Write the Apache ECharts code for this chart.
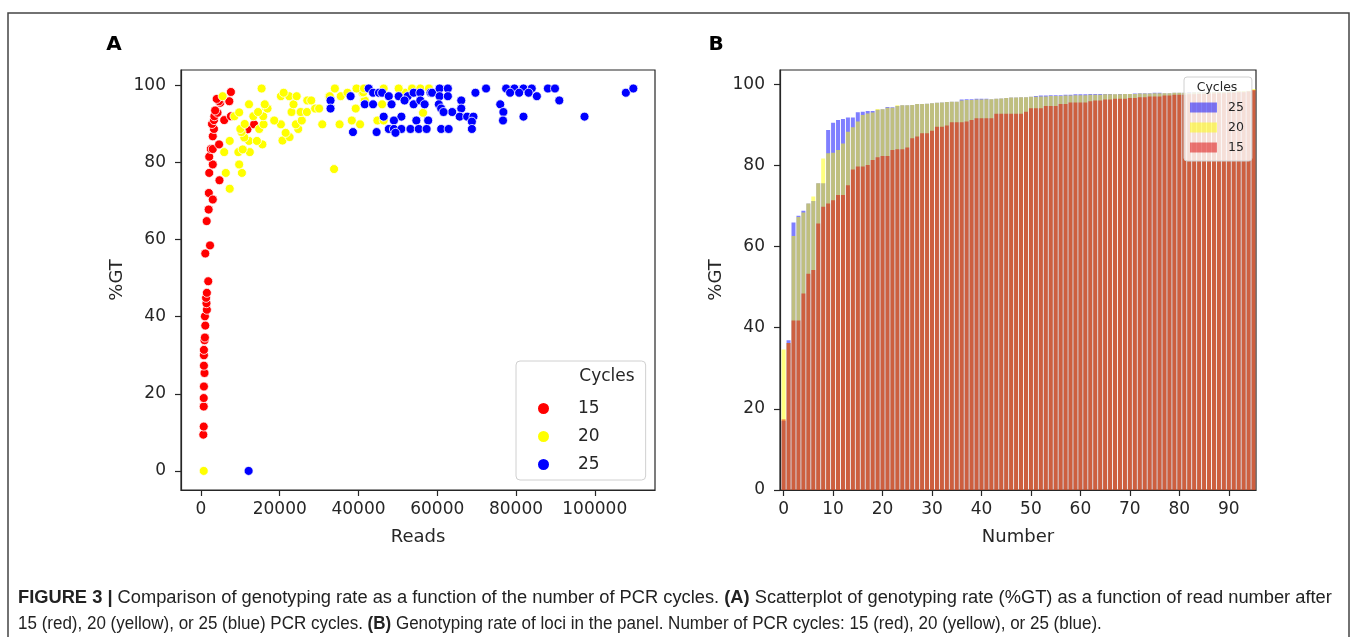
<!DOCTYPE html>
<html>
<head>
<meta charset="utf-8">
<script src="https://cdn.jsdelivr.net/npm/echarts@6/dist/echarts.min.js"></script>
<style>
html,body{margin:0;padding:0;background:#fff;}
#chart{width:1357px;height:637px;}
</style>
</head>
<body>
<div id="chart"></div>
<script>
// ---------- Panel A: scatter (Reads, %GT) ----------
const cycles15Points = [
  [600,9.4],[700,11.5],[700,16.7],[700,18.9],[750,21.9],[900,25.4],[750,27.3],[750,30.0],[750,31.4],
  [900,33.9],[1000,34.6],[1100,37.7],[1000,40.1],[1500,41.8],[1400,43.5],[1300,44.9],[1500,46.2],
  [1850,49.2],[1100,56.4],[2300,58.5],[1450,64.8],[1950,67.8],[2000,72.1],[3000,70.4],[4700,75.4],
  [2100,77.3],[3000,79.5],[2100,81.5],[2500,83.5],[3000,83.5],[4600,84.7],[3000,86.8],[3300,88.7],
  [11800,88.6],[13500,89.9],[2800,90.0],[3300,91.0],[5900,91.0],[3400,92.0],[7600,92.0],[4200,92.9],
  [3600,93.5],[4900,95.5],[4600,95.9],[7200,95.9],[4000,96.5],[7600,98.3]
];
const cycles20Points = [
  [700,0],[33800,78.3],[7300,73.2],[6300,77.3],[10400,77.3],[9700,79.5],[5900,82.7],[9500,82.7],
  [12400,82.7],[10600,83.4],[15600,84.7],[7300,85.6],[12200,85.6],[14200,85.6],[20700,85.7],[22500,86.6],
  [11000,86.5],[21500,87.7],[10300,87.9],[10000,88.7],[14800,88.7],[24700,88.7],[11100,90.0],[15900,89.9],
  [20300,89.9],[24100,89.9],[30800,89.9],[35200,89.9],[40400,89.9],[18600,90.9],[25600,90.9],[38300,90.9],
  [44800,90.9],[46400,90.9],[8500,92.0],[13300,92.0],[15800,92.0],[56400,92.9],[9700,93.0],[14500,93.1],
  [23000,93.1],[25300,93.1],[26900,93.1],[16500,94.2],[16900,94.0],[29000,94.0],[30000,94.0],[39300,94.0],
  [12200,95.1],[16200,95.1],[23500,95.1],[46000,95.1],[27000,96.1],[28000,96.1],[41400,96.1],[41600,96.1],
  [5500,97.2],[20300,97.2],[22400,97.2],[24300,97.2],[32500,97.2],[32700,97.2],[35500,97.2],[21000,98.1],
  [37200,98.1],[41000,98.1],[41200,98.2],[51900,98.1],[15400,99.2],[34000,99.2],[39500,99.2],[41400,99.2],
  [46400,99.2],[50200,99.2],[53600,99.2],[55700,99.2],[57900,99.2]
];
const cycles25Points = [
  [12100,0],[32900,96.1],[32900,94.0],[38000,97.2],[42600,99.2],[43700,98.1],[45200,98.1],[46000,98.1],
  [47700,97.2],[50200,97.2],[52500,97.2],[54000,98.1],[55700,98.1],[58300,98.1],[58700,98.1],[60600,99.2],
  [62700,99.2],[60600,97.2],[62700,97.2],[69700,98.1],[72400,99.2],[77500,99.2],[79600,99.2],[81900,99.2],
  [84000,99.2],[88100,99.2],[89900,99.2],[78500,98.1],[80800,98.1],[83200,98.1],[85300,97.2],[91000,96.1],
  [107900,98.1],[109800,99.2],[97400,91.9],[76000,95.1],[76800,93.1],[76700,90.9],[81900,91.9],[66100,96.1],
  [66100,94.0],[63800,93.1],[65700,91.9],[67600,91.9],[69200,91.9],[68800,90.6],[68800,88.7],[41600,95.1],
  [43700,95.1],[48400,95.1],[51700,96.1],[54000,95.1],[55700,96.1],[56800,95.1],[60400,95.1],[61000,94.0],
  [61600,93.1],[46400,91.9],[50900,91.9],[54700,90.9],[57700,90.9],[49000,90.9],[47700,88.7],[49000,88.7],
  [50900,88.7],[53200,88.7],[55300,88.7],[57300,88.7],[61000,88.7],[62900,88.7],[38600,87.9],[44600,87.9],
  [49400,87.7]
];
const readsTicks = [0,20000,40000,60000,80000,100000];
const gtTicks = [0,20,40,60,80,100];

// ---------- Panel B: bars (Number, %GT) ----------
const numberTicks = [0,10,20,30,40,50,60,70,80,90];
const gt15Bars = [
  17.4,36.2,41.8,41.8,48.4,53.3,54.2,65.7,69.8,70.6,71.4,72.7,72.7,75.1,79.0,79.7,79.7,80.1,81.3,82.0,
  82.3,82.3,83.8,84.0,84.0,84.4,86.7,87.1,87.9,87.9,88.5,89.5,89.5,89.8,90.6,90.6,90.6,90.8,91.2,91.6,
  91.6,91.6,91.6,92.7,92.7,92.7,92.7,92.7,92.7,93.2,94.1,94.1,94.1,94.6,94.6,94.6,95.1,95.1,95.5,95.5,
  95.5,95.5,95.8,96.0,96.0,96.2,96.2,96.4,96.4,96.4,96.6,96.6,96.8,96.8,97.0,97.0,97.0,97.2,97.2,97.4,
  97.4,97.4,97.5,97.5,97.6,97.6,97.7,97.7,97.8,97.8,97.9,97.9,98.0,98.0,98.2,98.6
];
const gt20Bars = [
  34.6,36.2,62.6,67.3,68.4,70.6,72.3,75.6,81.7,83.0,83.1,83.8,85.4,88.3,89.4,90.8,92.4,92.8,93.0,93.9,
  93.8,94.2,94.2,94.8,94.8,94.8,94.9,95.1,95.1,95.2,95.3,95.4,95.5,95.6,95.7,95.7,96.0,96.1,96.1,96.2,
  96.2,96.3,96.3,96.4,96.5,96.6,96.7,96.7,96.8,96.8,96.9,96.9,97.0,97.0,97.1,97.1,97.1,97.2,97.2,97.3,
  97.3,97.3,97.4,97.4,97.4,97.5,97.5,97.5,97.5,97.6,97.6,97.6,97.7,97.7,97.7,97.8,97.8,97.8,97.8,97.9,
  97.9,97.9,97.9,98.0,98.0,98.0,98.0,98.1,98.1,98.1,98.2,98.2,98.3,98.3,98.4,98.8
];
const gt25Bars = [
  17.0,36.9,65.9,67.6,68.8,70.6,71.2,75.6,75.6,88.7,90.5,91.2,91.4,91.8,91.8,93.1,93.2,93.4,93.4,93.7,
  93.8,94.4,94.3,94.6,94.8,94.8,94.9,95.1,95.1,95.2,95.3,95.4,95.5,95.6,95.7,95.7,96.2,96.3,96.3,96.4,
  96.4,96.4,96.3,96.4,96.5,96.6,96.7,96.7,96.8,96.8,96.9,97.1,97.2,97.2,97.3,97.3,97.3,97.4,97.4,97.5,
  97.5,97.5,97.6,97.6,97.6,97.6,97.6,97.5,97.6,97.6,97.6,97.7,97.8,97.8,97.8,97.9,97.9,97.8,97.8,97.9,
  97.9,97.9,98.0,98.0,98.0,98.1,98.0,98.1,98.1,98.1,98.2,98.2,98.2,98.2,98.3,98.4
];
const numberIdx = gt15Bars.map((_, i) => i);

const FONT = 'DejaVu Sans';
const INK = '#262626';
const CAPFONT = '"Liberation Sans Narrow", "Liberation Sans", Arial, sans-serif';

function pairs(vals){ return vals.map((v,i)=>[numberIdx[i], v]); }

function valueAxis(gi, min, max, ticks, name, nameGap, isY){
  return {
    type:'value', gridIndex:gi, min:min, max:max,
    name:name, nameLocation:'middle', nameGap:nameGap,
    nameTextStyle:{fontFamily:FONT, fontSize:18, color:INK},
    axisLine:{show:true, onZero:false, lineStyle:{color:INK, width:1.2}},
    axisTick:{show:true, inside:false, length:6, customValues:ticks, lineStyle:{color:INK, width:1.2}},
    axisLabel:{customValues:ticks, fontFamily:FONT, fontSize:17, color:INK, margin:isY?15:11,
               formatter:(v)=>String(v)},
    splitLine:{show:false}
  };
}

const option = {
  animation:false,
  backgroundColor:'#fff',
  grid:[
    {left:181, top:70, width:474, height:420, show:true, borderColor:INK, borderWidth:1.2, backgroundColor:'transparent'},
    {left:780, top:70, width:476, height:420, show:true, borderColor:INK, borderWidth:1.2, backgroundColor:'transparent'}
  ],
  xAxis:[
    valueAxis(0, -5070, 115300, readsTicks, 'Reads', 38, false),
    valueAxis(1, -0.73, 95.5, numberTicks, 'Number', 38, false)
  ],
  yAxis:[
    valueAxis(0, -4.95, 104, gtTicks, '%GT', 55, true),
    valueAxis(1, 0, 103.5, gtTicks, '%GT', 55, true)
  ],
  legend:[
    {
      data:['15','20','25'], orient:'vertical', left:516, top:361,
      padding:[39,46,7,20], itemWidth:13, itemHeight:13, itemGap:11,
      icon:'circle',
      textStyle:{fontFamily:FONT, fontSize:17, color:INK, padding:[0,0,0,23]},
      backgroundColor:'rgba(255,255,255,0.8)', borderColor:'#d0d0d0', borderWidth:1, borderRadius:4,
      selectedMode:false
    },
    {
      data:['b25','b20','b15'], orient:'vertical', left:1184, top:77,
      padding:[24,8,7,6], itemWidth:27, itemHeight:10, itemGap:7,
      icon:'rect',
      formatter:(n)=>n.slice(1),
      textStyle:{fontFamily:FONT, fontSize:12.5, color:INK, padding:[0,0,0,6]},
      backgroundColor:'rgba(255,255,255,0.8)', borderColor:'#d0d0d0', borderWidth:1, borderRadius:3,
      selectedMode:false
    }
  ],
  series:[
    {name:'15', type:'scatter', xAxisIndex:0, yAxisIndex:0, data:cycles15Points, symbolSize:9,
     itemStyle:{color:'#ff0000', borderColor:'#ffffff', borderWidth:0.8, opacity:1}},
    {name:'20', type:'scatter', xAxisIndex:0, yAxisIndex:0, data:cycles20Points, symbolSize:9,
     itemStyle:{color:'#ffff00', borderColor:'#ffffff', borderWidth:0.8, opacity:1}},
    {name:'25', type:'scatter', xAxisIndex:0, yAxisIndex:0, data:cycles25Points, symbolSize:9,
     itemStyle:{color:'#0000ff', borderColor:'#ffffff', borderWidth:0.8, opacity:1}},
    {name:'b25', type:'bar', xAxisIndex:1, yAxisIndex:1, data:pairs(gt25Bars), barWidth:4, barGap:'-100%',
     itemStyle:{color:'rgba(0,0,255,0.5)'}},
    {name:'b20', type:'bar', xAxisIndex:1, yAxisIndex:1, data:pairs(gt20Bars), barWidth:4, barGap:'-100%',
     itemStyle:{color:'rgba(255,255,0,0.5)'}},
    {name:'b15', type:'bar', xAxisIndex:1, yAxisIndex:1, data:pairs(gt15Bars), barWidth:4, barGap:'-100%',
     itemStyle:{color:'rgba(220,0,0,0.5)'}}
  ],
  graphic:[
    {type:'rect', z:100, shape:{x:8, y:13, width:1341, height:700}, style:{fill:'none', stroke:'#444', lineWidth:1.5}, silent:true},
    {type:'text', z:100, x:114, y:45, style:{text:'A', font:'bold 20px "DejaVu Sans"', fill:'#000', align:'center', verticalAlign:'middle'}},
    {type:'text', z:100, x:716, y:45, style:{text:'B', font:'bold 20px "DejaVu Sans"', fill:'#000', align:'center', verticalAlign:'middle'}},
    {type:'text', z:100, x:607, y:377, style:{text:'Cycles', font:'17px "DejaVu Sans"', fill:INK, align:'center', verticalAlign:'middle'}},
    {type:'text', z:100, x:1217, y:87.5, style:{text:'Cycles', font:'12.5px "DejaVu Sans"', fill:INK, align:'center', verticalAlign:'middle'}},
    {type:'text', z:100, x:18, y:598, style:{
      text:'{b|FIGURE 3 |} Comparison of genotyping rate as a function of the number of PCR cycles. {b|(A)} Scatterplot of genotyping rate (%GT) as a function of read number after',
      font:'18.3px ' + CAPFONT, fill:'#222', verticalAlign:'middle',
      rich:{b:{fontWeight:'bold', fontFamily:CAPFONT, fontSize:18.3, fill:'#222'}}
    }},
    {type:'text', z:100, x:18, y:624, scaleX:0.93, style:{
      text:'15 (red), 20 (yellow), or 25 (blue) PCR cycles. {b|(B)} Genotyping rate of loci in the panel. Number of PCR cycles: 15 (red), 20 (yellow), or 25 (blue).',
      font:'18.3px ' + CAPFONT, fill:'#222', verticalAlign:'middle',
      rich:{b:{fontWeight:'bold', fontFamily:CAPFONT, fontSize:18.3, fill:'#222'}}
    }}
  ]
};

const chart = echarts.init(document.getElementById('chart'), null, {renderer:'canvas'});
chart.setOption(option);
</script>
</body>
</html>
